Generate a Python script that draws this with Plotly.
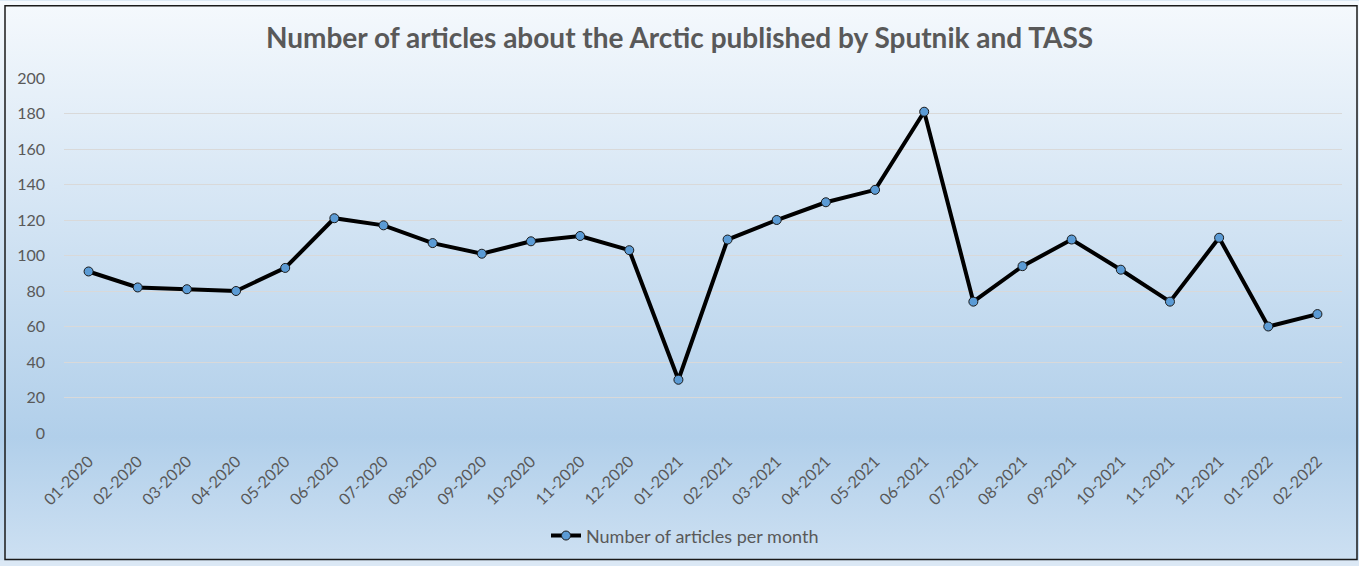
import base64
import plotly.graph_objects as go

months = ["01-2020", "02-2020", "03-2020", "04-2020", "05-2020", "06-2020", "07-2020",
          "08-2020", "09-2020", "10-2020", "11-2020", "12-2020", "01-2021", "02-2021",
          "03-2021", "04-2021", "05-2021", "06-2021", "07-2021", "08-2021", "09-2021",
          "10-2021", "11-2021", "12-2021", "01-2022", "02-2022"]
articles = [91, 82, 81, 80, 93, 121, 117, 107, 101, 108, 111, 103, 30, 109,
            120, 130, 137, 181, 74, 94, 109, 92, 74, 110, 60, 67]
y_ticks = [0, 20, 40, 60, 80, 100, 120, 140, 160, 180, 200]

W, H = 1359, 566
ML, MR, MT, MB = 64, 17, 78, 129
FONT = "Lato"

svg = (
    '<svg xmlns="http://www.w3.org/2000/svg" width="100" height="100" preserveAspectRatio="none">'
    '<defs><linearGradient id="g" x1="0" y1="0" x2="0" y2="1">'
    '<stop offset="0" stop-color="#f5f9fd"/>'
    '<stop offset="0.78" stop-color="#b1cfea"/>'
    '<stop offset="1" stop-color="#cde0f2"/>'
    '</linearGradient></defs>'
    '<rect x="0" y="0" width="100" height="100" fill="url(#g)"/></svg>'
)
src = "data:image/svg+xml;base64," + base64.b64encode(svg.encode()).decode()

pw = W - ML - MR
ph = H - MT - MB

fig = go.Figure()
fig.add_trace(go.Scatter(
    x=months, y=articles, mode="lines+markers",
    name="Number of articles per month",
    line=dict(color="black", width=4),
    marker=dict(size=9, color="#5b9bd5", line=dict(color="#1a1a1a", width=1)),
))

fig.update_layout(
    width=W, height=H,
    margin=dict(l=ML, r=MR, t=MT, b=MB),
    paper_bgcolor="#dbe8f5",
    plot_bgcolor="rgba(0,0,0,0)",
    font=dict(family=FONT, color="#595959", size=16),
    title=dict(text="<b>Number of articles about the Arctic published by Sputnik and TASS</b>",
               x=0.5, xanchor="center", y=1 - 38 / H, yanchor="middle",
               font=dict(family=FONT, size=28, color="#595959")),
    xaxis=dict(type="category", categoryorder="array", categoryarray=months,
               range=[-0.5, len(months) - 0.5], tickangle=-45,
               showgrid=False, zeroline=False, showline=False, ticks="",
               ticklabelstandoff=15,
               tickfont=dict(size=16, color="#595959")),
    yaxis=dict(range=[0, 200], tickvals=y_ticks, showgrid=True, gridcolor="#d9d9d9",
               gridwidth=1, zeroline=False, showline=False, ticks="",
               ticklabelstandoff=18,
               tickfont=dict(size=16, color="#595959")),
    showlegend=True,
    legend=dict(orientation="h", x=0.5 - 18 / pw, xanchor="center", y=-(541 - 437) / ph,
                yanchor="middle", bgcolor="rgba(0,0,0,0)",
                font=dict(size=18, color="#595959")),
    images=[dict(source=src, xref="paper", yref="paper",
                 x=-ML / pw, y=1 + MT / ph, sizex=W / pw, sizey=H / ph,
                 xanchor="left", yanchor="top", sizing="stretch", layer="below")],
    shapes=[dict(type="rect", xref="paper", yref="paper",
                 x0=-(ML - 5) / pw, x1=1 + (MR - 2) / pw,
                 y0=-(MB - 1) / ph, y1=1 + (MT - 5) / ph,
                 line=dict(color="#1a1a1a", width=1.5), fillcolor="rgba(0,0,0,0)")],
)

fig.write_html("out.html")
